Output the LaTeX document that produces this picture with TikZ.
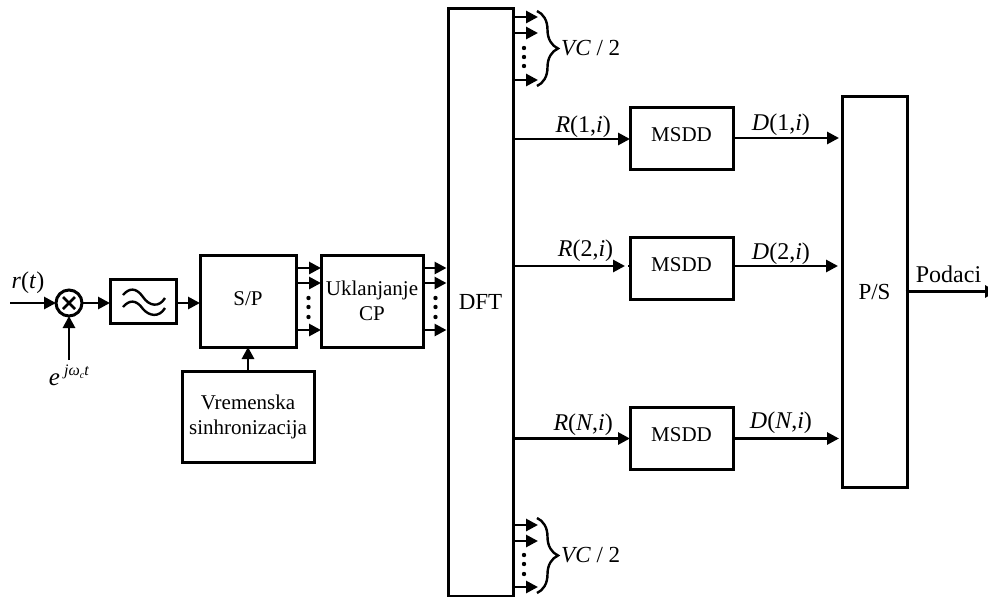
\documentclass[tikz,border=0pt]{standalone}
\usepackage{fontspec}
\setmainfont{Liberation Serif}
\usetikzlibrary{positioning,arrows.meta,calc,decorations.pathreplacing}

\begin{document}
\begin{tikzpicture}[
        x=1pt, y=1pt,
        node distance=24pt,
        blok/.style={draw, line width=3pt, outer sep=0pt, inner sep=0pt, align=center, font=\fontsize{21}{25}\selectfont},
        lab/.style={inner sep=0pt, font=\fontsize{24}{26}\selectfont},
        conn/.style={line width=2.8pt, -{Triangle[length=12pt,width=12pt]}},
        zagrada/.style={line width=2.4pt, decorate, decoration={brace,amplitude=21pt}}
    ]
        \useasboundingbox (0,0) rectangle (988,-597);

        \node[blok, minimum width=65pt, minimum height=588pt, font=\fontsize{23}{25}\selectfont] (dft) at (480.5,-302) {DFT};
        \node[blok, minimum width=102pt, minimum height=92pt, left=25pt of dft, yshift=1pt] (ukl) {Uklanjanje\\CP};
        \node[blok, minimum width=96pt, minimum height=92pt, left=25pt of ukl, text depth=5pt] (sp) {S/P};
        \node[blok, minimum width=132pt, minimum height=91pt, below=24pt of sp] (vrem) {Vremenska\\sinhronizacija};
        \node[blok, minimum width=66pt, minimum height=44pt, left=24pt of sp] (filt) {};
        \node[draw, circle, line width=3pt, outer sep=0pt, inner sep=0pt, minimum size=26pt, left=28pt of filt, yshift=-2pt] (mix) {};

        \node[blok, minimum width=103pt, minimum height=62pt, right=117pt of dft, yshift=164pt, text depth=7pt] (msdd1) {MSDD};
        \node[blok, minimum width=103pt, minimum height=62pt, right=117pt of dft, yshift=34pt, text depth=7pt] (msdd2) {MSDD};
        \node[blok, minimum width=103pt, minimum height=62pt, right=117pt of dft, yshift=-136.5pt, text depth=7pt] (msdd3) {MSDD};
        \node[blok, minimum width=65pt, minimum height=391pt, right=109pt of msdd2, yshift=-23.5pt, font=\fontsize{23}{25}\selectfont] (ps) {P/S};

        % ulaz
        \coordinate[left=46pt of mix] (ulaz);
        \coordinate[below=44pt of mix] (nosilac);
        \coordinate[right=90pt of ps] (izlaz);
        \node[lab, above=9pt of mix.west, xshift=-28pt] (rt) {\textit{r}(\textit{t})};
        \node[lab, below=5pt of nosilac, font=\fontsize{25}{27}\selectfont] (exp) {\textit{e}\,\raisebox{10pt}{\fontsize{16}{16}\selectfont\textit{jω}\raisebox{-3pt}{\fontsize{10}{10}\selectfont\textit{c}}\textit{t}}};

        \draw[line width=2.8pt] (mix.center) ++(-6,6) -- ++(12,-12);
        \draw[line width=2.8pt] (mix.center) ++(-6,-6) -- ++(12,12);

        % simbol filtra
        \begin{scope}[shift={(filt.center)}, line width=2.4pt]
            \draw (-20,6) .. controls (-14,13) and (-7,14) .. (0,4) .. controls (6,-5) and (16,-7) .. (22,3);
            \draw (-20,-6) .. controls (-14,1) and (-7,2) .. (0,-8) .. controls (6,-15) and (16,-17) .. (22,-7);
        \end{scope}

        \draw[conn] (ulaz) -- (mix);
        \draw[conn] (nosilac) -- (mix);
        \draw[conn] (mix) -- (mix -| filt.west);
        \draw[conn] (filt.east |- mix) -- (mix -| sp.west);
        \draw[conn] (vrem) -- (sp);

        % paralelne grane
        \foreach \dy in {33,18,-29} {
            \draw[conn] ([yshift=\dy pt]sp.east) -- ([yshift=\dy pt]ukl.west);
            \draw[conn, shorten >=1.5pt] ([yshift=\dy pt]ukl.east) -- ([yshift=\dy pt]ukl.east -| dft.west);
        }
        \foreach \dy in {3,-6,-16} {
            \fill ($(sp.east)!.5!(ukl.west)+(0,\dy)$) circle (2.2pt);
            \fill ($(ukl.east)!.5!(dft.west |- ukl.east)+(0,\dy)$) circle (2.2pt);
        }

        % virtuelni nosioci
        \foreach \dy [count=\i] in {285,269,222} {
            \coordinate (g\i) at ($(dft.east)+(25,\dy)$);
            \draw[conn] (dft.east |- g\i) -- (g\i);
        }
        \foreach \dy [count=\i] in {-223,-239,-285} {
            \coordinate (d\i) at ($(dft.east)+(25,\dy)$);
            \draw[conn] (dft.east |- d\i) -- (d\i);
        }
        \foreach \dy in {254,245,236} {
            \fill ($(dft.east)+(11,\dy)$) circle (2.2pt);
        }
        \foreach \dy in {-253,-262,-272} {
            \fill ($(dft.east)+(11,\dy)$) circle (2.2pt);
        }
        \coordinate (z1) at ($(dft.east)+(24,291)$);
        \coordinate (z2) at ($(dft.east)+(24,216)$);
        \coordinate (z3) at ($(dft.east)+(24,-216)$);
        \coordinate (z4) at ($(dft.east)+(24,-291)$);
        \draw[zagrada] (z1) -- (z2);
        \draw[zagrada] (z3) -- (z4);
        \node[lab, anchor=west, font=\fontsize{23}{25}\selectfont] (vc1) at ($(z1)!.5!(z2)+(24,0)$) {\textit{VC} / 2};
        \node[lab, anchor=west, font=\fontsize{23}{25}\selectfont] (vc2) at ($(z3)!.5!(z4)+(24,0)$) {\textit{VC} / 2};

        % grane MSDD
        \draw[conn] ([yshift=-1pt]dft.east |- msdd1) -- node[lab, pos=.6, above=0pt] (r1) {\textit{R}(1,\textit{i})} ([yshift=-1pt]msdd1.west);
        \draw[conn, shorten >=5pt] ([yshift=2pt]dft.east |- msdd2) -- node[lab, pos=.62, above=3pt] (r2) {\textit{R}(2,\textit{i})} ([yshift=2pt]msdd2.west);
        \draw[line width=2.8pt] ([yshift=2pt]msdd2.west) -- ++(-2,0);
        \draw[conn] (dft.east |- msdd3) -- node[lab, pos=.6, above=1pt] (rn) {\textit{R}(\textit{N},\textit{i})} (msdd3);

        \draw[conn, shorten >=3pt] (msdd1) -- node[lab, pos=.44, above=1pt] (d1) {\textit{D}(1,\textit{i})} (msdd1 -| ps.west);
        \draw[conn, shorten >=4pt] ([yshift=2pt]msdd2.east) -- node[lab, pos=.44, above=0pt] (d2) {\textit{D}(2,\textit{i})} ([yshift=2pt]msdd2.east -| ps.west);
        \draw[conn, shorten >=3pt] (msdd3) -- node[lab, pos=.44, above=3pt] (dn) {\textit{D}(\textit{N},\textit{i})} (msdd3 -| ps.west);

        \draw[conn] (ps) ++(31,0) -- node[lab, pos=.47, above=7pt] (pod) {Podaci} (izlaz);
    \end{tikzpicture}
\end{document}
